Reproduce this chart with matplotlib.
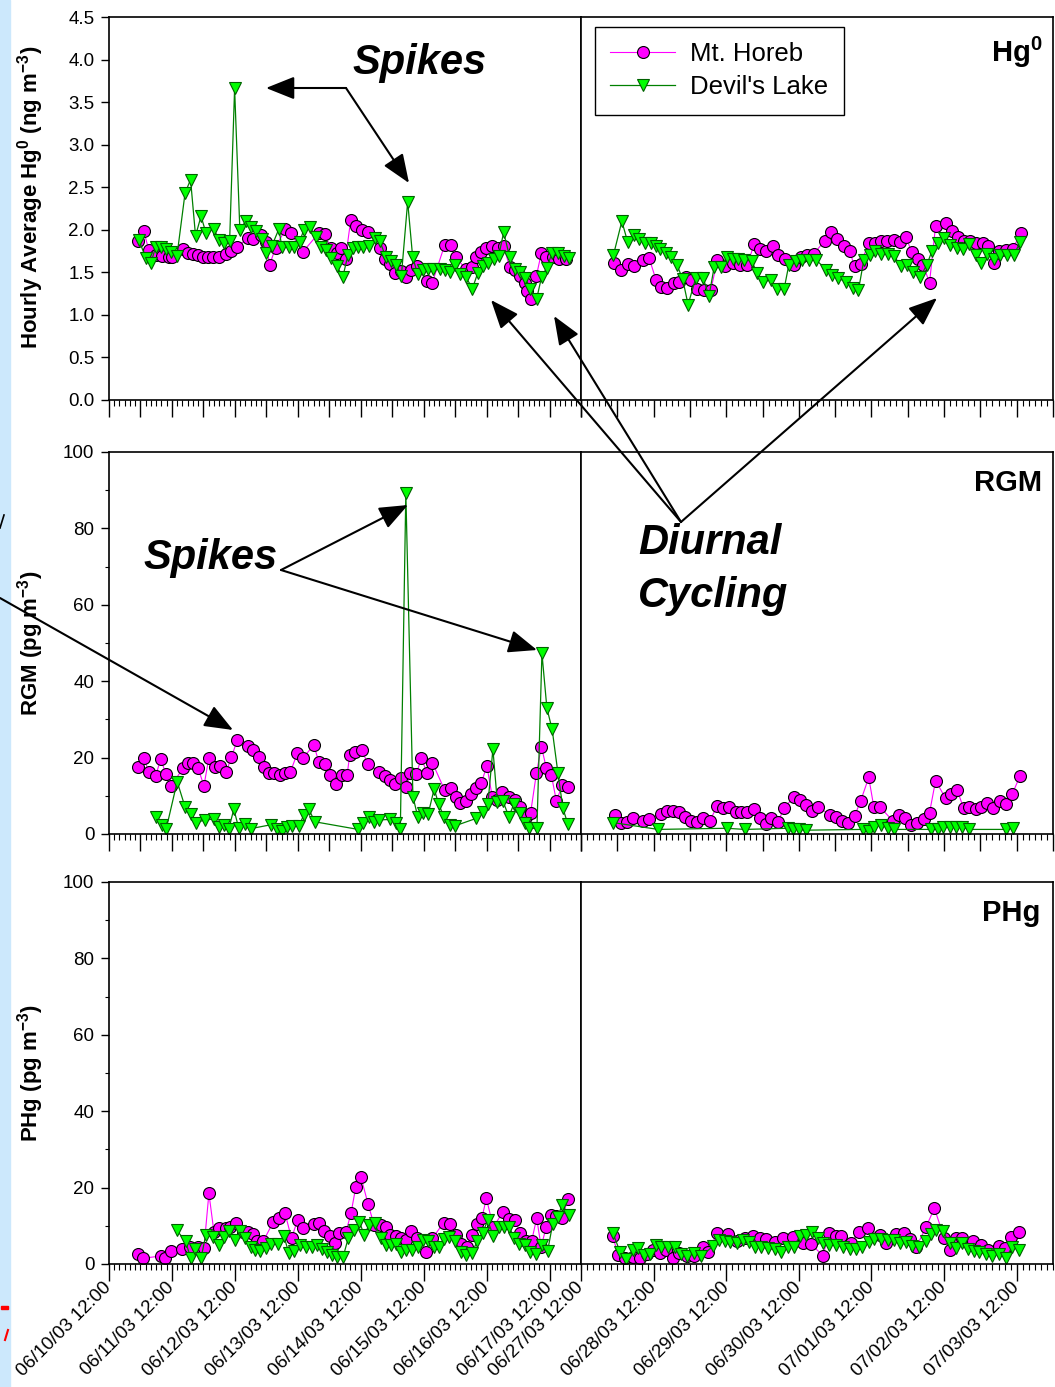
import numpy as np
import matplotlib
matplotlib.use('Agg')
import matplotlib.pyplot as plt
import matplotlib.dates as mdates
from matplotlib.patches import FancyArrowPatch, Rectangle
from matplotlib.lines import Line2D

plt.rcParams['font.family'] = ['Liberation Sans', 'DejaVu Sans']
plt.rcParams['mathtext.default'] = 'regular'

# time axis: hours after 06/10/03 00:00 (first period) and 06/27/03 00:00 (second period)
start1 = np.datetime64('2003-06-10T00:00')
start2 = np.datetime64('2003-06-27T00:00')

# ---- Hg0 (ng m-3) ----
hg0_mh_t1 = [23.0, 25.2, 27.2, 29.8, 32.2, 34.9, 36.0, 40.2, 42.1, 44.0, 45.9, 47.8, 49.7, 51.6, 53.9,
             56.5, 58.5, 60.8, 65.0, 66.9, 69.8, 71.7, 73.3, 75.5, 79.3, 81.3, 85.9, 92.0, 94.3, 96.5,
             98.9, 100.4, 102.2, 104.2, 106.1, 108.3, 110.7, 115.3, 117.2, 119.1, 121.0, 123.5, 125.4,
             127.3, 129.3, 133.2, 135.3, 140.0, 142.3, 144.2, 148.0, 150.6, 152.1, 154.0, 155.9, 158.2,
             160.2, 162.5, 164.8, 166.7, 168.6, 170.5, 171.3, 173.0, 175.0, 176.9, 178.8, 181.2, 183.8, 186.4]
hg0_mh_v1 = [1.87, 1.99, 1.76, 1.70, 1.69, 1.68, 1.68, 1.77, 1.73, 1.72, 1.70, 1.68, 1.68, 1.68, 1.68,
             1.72, 1.75, 1.80, 1.90, 1.89, 1.94, 1.86, 1.59, 1.79, 2.01, 1.96, 1.74, 1.96, 1.95, 1.79,
             1.73, 1.79, 1.66, 2.12, 2.05, 2.00, 1.97, 1.79, 1.66, 1.60, 1.49, 1.51, 1.45,
             1.53, 1.57, 1.40, 1.38, 1.82, 1.82, 1.68, 1.54, 1.56, 1.68, 1.74, 1.79, 1.81,
             1.79, 1.81, 1.56, 1.53, 1.46, 1.37, 1.28, 1.19, 1.46, 1.73, 1.68, 1.68, 1.66, 1.66]
hg0_dl_t1 = [23.4, 26.0, 28.0, 29.8, 31.7, 33.7, 35.5, 37.9, 41.0, 43.1, 45.0, 47.1, 49.0, 52.0, 53.9,
             55.8, 58.0, 59.9, 61.9, 64.1, 66.0, 67.9, 70.2, 71.8, 74.1, 76.8, 77.9, 80.6, 82.5, 84.7,
             86.3, 88.6, 90.8, 92.7, 94.8, 96.8, 98.9, 101.2, 103.1, 105.0, 106.9, 108.8, 111.1, 113.3,
             115.3, 117.5, 119.7, 121.6, 123.5, 125.9, 127.8, 129.7, 131.6, 133.5, 135.4, 138.1, 140.0,
             141.9, 143.8, 145.7, 148.0, 150.6, 152.6, 154.5, 156.4, 158.7, 160.6, 162.5, 164.8, 166.7,
             168.6, 170.8, 172.7, 175.1, 177.0, 178.9, 181.0, 183.1, 185.4, 187.3]
hg0_dl_v1 = [1.88, 1.67, 1.61, 1.80, 1.80, 1.77, 1.74, 1.69, 2.43, 2.59, 1.93, 2.16, 1.96, 2.01, 1.88,
             1.85, 1.87, 3.66, 2.00, 2.10, 2.03, 1.99, 1.89, 1.73, 1.81, 2.01, 1.80, 1.80, 1.80, 1.86,
             2.00, 2.03, 1.92, 1.80, 1.76, 1.67, 1.57, 1.45, 1.70, 1.79, 1.80, 1.80, 1.81, 1.90,
             1.87, 1.68, 1.63, 1.59, 1.46, 2.33, 1.68, 1.48, 1.53, 1.54, 1.54, 1.54, 1.53,
             1.50, 1.59, 1.48, 1.45, 1.31, 1.49, 1.57, 1.61, 1.66, 1.69, 1.97, 1.68, 1.54,
             1.50, 1.43, 1.31, 1.19, 1.45, 1.55, 1.73, 1.73, 1.69, 1.67]
hg0_mh_t2 = [23.0, 25.2, 27.4, 29.4, 32.6, 34.5, 36.8, 38.4, 40.4, 42.6, 44.4, 46.7, 48.3, 50.5, 52.5,
             54.9, 57.1, 59.5, 62.1, 64.6, 67.0, 69.2, 71.1, 73.1, 75.3, 77.2, 79.3, 82.4, 84.6, 86.8,
             89.0, 92.5, 94.7, 96.7, 98.9, 100.8, 102.4, 104.4, 107.1, 109.3, 111.2, 113.2, 115.3, 117.3,
             119.3, 121.3, 123.3, 125.0, 127.2, 129.2, 132.7, 134.5, 136.5, 138.7, 140.7, 142.6, 144.8,
             146.6, 148.6, 150.3, 152.5, 154.7, 157.4]
hg0_mh_v2 = [1.61, 1.53, 1.60, 1.58, 1.65, 1.67, 1.41, 1.33, 1.32, 1.38, 1.39, 1.45, 1.41, 1.30, 1.29,
             1.29, 1.65, 1.57, 1.61, 1.59, 1.59, 1.83, 1.77, 1.75, 1.81, 1.70, 1.66, 1.59, 1.68, 1.70,
             1.72, 1.87, 1.97, 1.89, 1.81, 1.75, 1.57, 1.60, 1.84, 1.85, 1.87, 1.87, 1.88, 1.86,
             1.92, 1.74, 1.66, 1.59, 1.38, 2.05, 2.08, 1.99, 1.92, 1.87, 1.87, 1.85, 1.85,
             1.81, 1.61, 1.75, 1.76, 1.78, 1.96]
hg0_dl_t2 = [22.7, 25.5, 27.4, 29.4, 31.2, 33.1, 35.1, 36.8, 38.2, 40.1, 41.7, 43.7, 45.6, 47.4, 49.9,
             52.4, 54.3, 56.0, 58.2, 60.1, 62.1, 63.9, 65.9, 68.4, 70.3, 72.2, 74.7, 76.7, 79.1, 80.7,
             83.0, 85.2, 87.3, 89.6, 93.1, 94.9, 96.9, 99.7, 101.9, 103.7, 105.5, 107.4, 109.3, 111.2,
             113.6, 115.6, 117.6, 119.8, 121.7, 124.2, 126.3, 128.0, 129.9, 132.1, 134.1, 136.3, 138.2,
             140.4, 142.6, 144.3, 146.3, 148.6, 150.6, 152.8, 155.0, 157.2]
hg0_dl_v2 = [1.70, 2.10, 1.86, 1.94, 1.89, 1.84, 1.84, 1.81, 1.77, 1.73, 1.68, 1.59, 1.42, 1.12, 1.43,
             1.43, 1.22, 1.56, 1.56, 1.68, 1.66, 1.66, 1.65, 1.63, 1.49, 1.39, 1.41, 1.31, 1.30, 1.59,
             1.63, 1.65, 1.65, 1.65, 1.53, 1.47, 1.43, 1.39, 1.32, 1.29, 1.65, 1.70, 1.75, 1.72,
             1.72, 1.69, 1.57, 1.59, 1.50, 1.45, 1.59, 1.75, 1.84, 1.90, 1.82, 1.79, 1.78,
             1.83, 1.70, 1.61, 1.72, 1.66, 1.70, 1.70, 1.70, 1.86]

# ---- RGM (pg m-3) ----
rgm_mh_t1 = [23.2, 25.2, 27.2, 29.8, 31.7, 33.8, 35.7, 40.2, 42.2, 44.1, 46.0, 48.2, 50.1, 52.4, 54.3,
             56.7, 58.7, 60.9, 65.1, 67.0, 69.2, 71.1, 73.0, 74.9, 77.1, 79.1, 81.2, 83.8, 85.9, 90.1,
             92.0, 94.3, 96.1, 98.4, 100.7, 102.8, 103.8, 105.7, 108.3, 110.8, 115.0, 117.2, 119.1, 121.2,
             123.3, 125.4, 126.9, 129.2, 131.1, 133.3, 135.3, 140.0, 142.3, 144.2, 146.0, 148.0, 150.2,
             152.1, 154.0, 156.1, 158.2, 159.9, 162.0, 164.5, 166.7, 168.9, 170.9, 172.8, 175.0, 176.9,
             178.8, 180.7, 182.6, 184.9, 187.0]
rgm_mh_v1 = [17.5, 20.0, 16.3, 15.2, 19.6, 15.6, 12.6, 17.2, 18.7, 18.7, 17.2, 12.6, 20.0, 17.6, 17.8,
             16.3, 20.1, 24.6, 23.0, 22.0, 20.2, 17.6, 16.0, 15.9, 15.4, 15.9, 16.3, 21.1, 19.8, 23.3,
             18.9, 18.3, 15.4, 13.1, 15.4, 15.4, 20.7, 21.5, 22.0, 18.3, 16.3, 15.2, 14.1, 13.1,
             14.6, 12.2, 15.9, 15.7, 19.8, 16.0, 18.7, 11.5, 12.0, 9.6, 8.2, 8.7, 10.6,
             12.0, 13.4, 17.8, 9.6, 8.9, 11.1, 9.8, 8.9, 7.0, 4.5, 5.6, 15.9, 22.9,
             17.2, 15.4, 8.7, 12.8, 12.2]
rgm_dl_t1 = [29.8, 32.1, 33.8, 38.0, 41.0, 43.1, 45.0, 48.8, 52.0, 53.9, 55.8, 57.7, 59.6, 61.5, 63.8,
             66.0, 73.6, 76.1, 78.0, 79.9, 81.8, 84.4, 86.3, 88.2, 90.5, 107.0, 108.9, 111.2, 113.0, 115.0,
             119.3, 121.3, 123.1, 125.2, 127.9, 129.8, 131.7, 133.7, 136.0, 137.7, 139.8, 141.9, 143.8,
             152.1, 154.6, 156.5, 158.4, 160.1, 162.2, 164.5, 166.4, 168.6, 170.5, 172.1, 175.2, 177.1,
             179.0, 181.0, 183.2, 185.1, 187.0]
rgm_dl_v1 = [4.5, 2.4, 1.3, 13.7, 7.1, 5.2, 3.0, 3.7, 3.9, 1.9, 2.3, 1.4, 6.5, 1.5, 2.5,
             1.4, 2.4, 1.2, 0.9, 1.9, 2.2, 2.1, 5.0, 6.5, 3.2, 1.2, 3.0, 4.5, 3.2, 3.7,
             3.8, 2.8, 1.2, 89.3, 9.8, 4.4, 5.6, 5.2, 11.8, 7.9, 4.4, 2.4, 2.1,
             4.1, 5.8, 7.9, 22.2, 8.3, 8.7, 4.5, 7.9, 5.4, 3.0, 1.5, 1.5, 47.3,
             32.9, 27.4, 16.0, 6.7, 2.6]
rgm_mh_t2 = [23.2, 25.2, 27.1, 29.1, 32.4, 34.4, 38.3, 40.3, 42.3, 44.3, 46.3, 48.3, 50.4, 52.4, 54.6,
             57.0, 59.0, 60.9, 63.1, 65.0, 67.0, 69.1, 71.1, 73.1, 74.9, 77.1, 79.1, 82.4, 84.5, 86.5,
             88.5, 90.3, 94.4, 96.4, 98.4, 100.3, 102.4, 104.4, 107.1, 108.8, 110.9, 115.1, 117.0, 119.2,
             121.1, 123.1, 125.2, 127.2, 129.2, 132.5, 134.3, 136.3, 138.5, 140.4, 142.4, 144.2, 146.2,
             148.3, 150.5, 152.5, 154.5, 157.1]
rgm_mh_v2 = [5.0, 3.0, 3.2, 4.3, 3.4, 3.8, 5.2, 6.1, 6.1, 5.8, 4.5, 3.4, 3.2, 4.3, 3.5,
             7.3, 6.7, 7.1, 5.8, 5.8, 5.8, 6.5, 4.3, 2.6, 4.1, 3.2, 6.7, 9.8, 8.9, 7.6,
             6.1, 7.1, 5.0, 4.4, 3.5, 2.8, 4.7, 8.6, 14.8, 7.0, 7.0, 3.4, 5.0, 4.1,
             2.4, 3.0, 3.8, 5.6, 14.0, 9.3, 10.4, 11.5, 6.7, 7.0, 6.5, 7.1, 8.0,
             6.7, 8.7, 7.8, 10.4, 15.2]
rgm_dl_t2 = [22.5, 37.5, 60.1, 66.1, 80.4, 82.1, 84.0, 86.5, 105.2, 107.1, 109.0, 111.2, 113.4, 115.3,
             127.7, 129.9, 131.8, 133.8, 135.8, 138.0, 140.1, 152.5, 154.7]
rgm_dl_v2 = [3.0, 1.2, 1.5, 1.2, 1.5, 1.2, 1.2, 1.0, 1.2, 0.9, 1.9, 2.4, 1.5, 1.2,
             1.2, 1.2, 1.8, 1.8, 1.9, 1.9, 1.2, 1.2, 1.5]

# ---- PHg (pg m-3) ----
phg_mh_t1 = [23.2, 25.1, 31.7, 33.5, 35.8, 39.8, 42.9, 45.9, 48.2, 50.1, 52.0, 53.9, 56.5, 58.3, 60.6,
             63.1, 65.0, 67.0, 68.5, 70.8, 74.7, 76.9, 79.1, 81.6, 83.9, 86.0, 90.3, 92.2, 94.1, 96.2,
             98.1, 99.9, 102.4, 104.3, 106.1, 108.1, 110.8, 113.1, 115.6, 117.5, 119.2, 121.4, 123.3,
             125.3, 127.2, 129.4, 133.0, 135.3, 139.6, 142.2, 144.4, 146.2, 148.4, 150.5, 152.4, 154.2,
             155.9, 158.6, 162.2, 164.4, 167.0, 168.8, 170.9, 173.2, 175.1, 176.8, 178.7, 180.4, 182.6,
             184.8, 187.0]
phg_mh_v1 = [2.6, 1.5, 2.1, 1.7, 3.5, 4.0, 4.5, 4.4, 4.1, 18.5, 8.5, 9.3, 9.5, 9.8, 10.8,
             8.5, 8.5, 7.9, 6.1, 5.9, 11.1, 12.0, 13.4, 6.7, 11.5, 9.3, 10.5, 10.8, 8.7, 7.3,
             5.4, 8.0, 8.5, 13.3, 20.1, 22.7, 15.7, 10.2, 10.2, 9.6, 7.6, 7.3, 6.7,
             6.3, 8.7, 6.7, 3.2, 6.7, 10.8, 10.5, 7.6, 5.2, 4.5, 7.6, 10.5, 12.0,
             17.2, 9.6, 13.7, 11.7, 11.4, 8.0, 5.9, 6.1, 12.0, 4.5, 9.6, 12.8, 12.6,
             12.0, 16.9]
phg_dl_t1 = [37.8, 41.2, 43.1, 44.8, 47.1, 48.9, 51.8, 53.9, 55.8, 57.9, 59.9, 62.0, 63.8, 66.0, 67.7,
             69.6, 71.8, 73.7, 76.5, 78.7, 80.6, 82.5, 84.9, 87.1, 89.3, 91.2, 93.2, 95.1, 97.0, 99.1,
             101.3, 103.2, 105.3, 107.5, 109.3, 111.2, 113.3, 115.6, 117.5, 119.5, 121.4, 123.3, 125.3,
             127.6, 129.7, 131.6, 133.8, 136.0, 137.8, 139.9, 141.8, 144.0, 146.2, 148.1, 150.5, 152.4,
             154.5, 156.4, 158.6, 160.7, 162.6, 164.7, 166.6, 168.5, 170.5, 172.7, 174.9, 177.2, 179.3,
             181.2, 183.1, 184.8, 187.3]
phg_dl_v1 = [8.9, 5.9, 1.7, 3.8, 1.5, 7.6, 7.0, 5.0, 7.0, 8.7, 6.3, 8.7, 6.7, 4.5, 3.7,
             3.5, 4.1, 5.2, 5.2, 7.3, 2.8, 3.5, 5.0, 4.4, 4.5, 5.0, 3.8, 3.2, 2.4, 1.9,
             1.9, 6.7, 8.9, 11.1, 7.6, 10.2, 10.8, 6.7, 5.0, 5.0, 5.2, 3.2, 3.7,
             3.7, 4.5, 6.3, 5.9, 4.4, 4.4, 6.5, 7.0, 5.9, 3.2, 2.4, 2.8, 6.1,
             8.2, 11.4, 7.3, 9.6, 9.6, 9.6, 6.7, 5.2, 5.0, 3.2, 2.6, 5.0, 3.5,
             10.5, 12.2, 15.5, 12.8]
phg_mh_t2 = [22.5, 24.3, 26.5, 29.1, 31.5, 33.7, 35.9, 38.1, 40.1, 42.3, 44.4, 46.9, 49.3, 52.2, 54.0,
             57.0, 60.6, 63.4, 66.1, 68.9, 71.1, 73.3, 76.0, 78.8, 82.1, 85.4, 88.1, 92.0, 93.9, 96.2,
             98.0, 101.3, 103.8, 106.8, 110.7, 112.9, 116.2, 118.6, 120.6, 122.8, 126.1, 128.8, 132.1,
             134.0, 135.8, 138.0, 141.7, 144.2, 146.4, 150.0, 152.3, 154.1, 156.6]
phg_mh_v2 = [7.2, 2.4, 1.5, 1.9, 1.7, 2.6, 3.7, 2.8, 3.7, 1.7, 3.0, 2.1, 2.1, 4.5, 3.2,
             8.0, 7.9, 6.1, 6.7, 7.3, 6.7, 6.5, 5.8, 6.7, 7.0, 5.4, 5.2, 2.1, 8.2, 7.3,
             7.2, 5.4, 8.5, 9.3, 7.6, 5.6, 7.9, 8.2, 6.5, 4.4, 9.8, 14.6, 6.7,
             3.7, 6.7, 6.7, 6.1, 5.0, 3.7, 4.7, 4.1, 7.0, 8.5]
phg_dl_t2 = [22.5, 24.9, 26.9, 29.1, 30.9, 32.8, 34.8, 36.8, 38.6, 40.8, 43.0, 45.0, 46.9, 49.3, 51.8,
             55.7, 57.5, 59.5, 61.4, 63.4, 65.4, 67.5, 69.4, 71.6, 73.8, 76.0, 78.2, 80.4, 82.3, 84.3,
             86.5, 88.5, 90.3, 92.0, 93.9, 96.2, 98.6, 100.8, 102.8, 105.0, 107.1, 109.0, 111.2, 113.4,
             115.3, 117.3, 119.3, 121.5, 123.6, 125.9, 127.7, 129.4, 131.6, 133.8, 135.8, 138.0, 139.8,
             141.8, 143.7, 145.7, 147.9, 150.0, 152.5, 154.5, 156.6]
phg_dl_v2 = [8.2, 3.2, 1.2, 3.7, 4.1, 2.4, 2.6, 5.0, 4.4, 4.4, 4.4, 2.6, 2.1, 2.8, 2.1,
             4.7, 6.3, 6.1, 5.8, 5.6, 6.3, 5.8, 4.5, 4.4, 4.1, 3.8, 3.2, 4.4, 4.4, 7.3,
             7.6, 8.5, 6.7, 5.6, 5.0, 5.0, 4.5, 3.8, 3.8, 4.5, 5.8, 6.5, 6.5, 6.3,
             6.3, 5.6, 5.8, 4.7, 4.4, 6.1, 7.9, 8.9, 8.7, 5.4, 4.1, 5.6, 3.8,
             3.5, 3.2, 2.6, 2.1, 2.6, 1.7, 4.5, 3.7]

site_names = ['Mt. Horeb', "Devil's Lake"]
panel_names = ['Hg$^0$', 'RGM', 'PHg']
ylabels = ['Hourly Average Hg$^0$ (ng m$^{-3}$)', 'RGM (pg m$^{-3}$)', 'PHg (pg m$^{-3}$)']


def to_time(start, hours):
    return start + (np.array(hours) * 60).round().astype('timedelta64[m]')


W, H = 1055, 1387
fig = plt.figure(figsize=(W / 100, H / 100), dpi=100)


def fx(px):
    return px / W


def fy(py):
    return 1 - py / H


# pixel rows of the three panels (top, bottom)
rows = [(17, 400), (452, 834), (882, 1264)]
data = [
    (hg0_mh_t1, hg0_mh_v1, hg0_dl_t1, hg0_dl_v1, hg0_mh_t2, hg0_mh_v2, hg0_dl_t2, hg0_dl_v2),
    (rgm_mh_t1, rgm_mh_v1, rgm_dl_t1, rgm_dl_v1, rgm_mh_t2, rgm_mh_v2, rgm_dl_t2, rgm_dl_v2),
    (phg_mh_t1, phg_mh_v1, phg_dl_t1, phg_dl_v1, phg_mh_t2, phg_mh_v2, phg_dl_t2, phg_dl_v2),
]
ylims = [(0, 4.5), (0, 100), (0, 100)]

mh_style = dict(color='#ff00ff', lw=0.8, marker='o', ms=8.6, mfc='#ff00ff', mec='black', mew=0.8)
dl_style = dict(color='#008000', lw=0.9, marker='v', ms=8.8, mfc='#00ff00', mec='#006000', mew=0.8)

axes_right = []
for i, (top, bot) in enumerate(rows):
    axL = fig.add_axes([fx(109), fy(bot), 472 / W, (bot - top) / H])
    axR = fig.add_axes([fx(581), fy(bot), 472 / W, (bot - top) / H])
    d = data[i]
    axL.plot(to_time(start1, d[0]), d[1], label=site_names[0], **mh_style)
    axL.plot(to_time(start1, d[2]), d[3], label=site_names[1], **dl_style)
    axR.plot(to_time(start2, d[4]), d[5], label=site_names[0], **mh_style)
    axR.plot(to_time(start2, d[6]), d[7], label=site_names[1], **dl_style)

    axL.set_xlim(start1 + np.timedelta64(12, 'h'), start1 + np.timedelta64(192, 'h'))
    axR.set_xlim(start2 + np.timedelta64(12, 'h'), start2 + np.timedelta64(168, 'h'))

    for ax in (axL, axR):
        ax.set_ylim(*ylims[i])
        for s in ax.spines.values():
            s.set_linewidth(1.2)
        ax.xaxis.set_minor_locator(mdates.HourLocator(byhour=range(0, 24, 2)))
        if i < 2:
            ax.xaxis.set_major_locator(mdates.HourLocator(byhour=[0, 12]))
            ax.tick_params(axis='x', labelbottom=False)
        else:
            ax.xaxis.set_major_locator(mdates.HourLocator(byhour=[12]))
            ax.xaxis.set_major_formatter(mdates.DateFormatter('%m/%d/%y %H:%M'))
            ax.tick_params(axis='x', labelsize=13.5, pad=3)
        ax.tick_params(axis='x', which='major', direction='out', length=12, width=1)
        ax.tick_params(axis='x', which='minor', direction='out', length=4.5, width=0.8)

    if i == 0:
        axL.yaxis.set_major_locator(plt.MultipleLocator(0.5))
        axL.yaxis.set_major_formatter(plt.FormatStrFormatter('%.1f'))
    else:
        axL.yaxis.set_major_locator(plt.MultipleLocator(20))
        axL.yaxis.set_minor_locator(plt.MultipleLocator(10))
    axL.tick_params(axis='y', which='major', direction='out', length=5.5, width=1, labelsize=13.5, pad=5)
    axL.tick_params(axis='y', which='minor', direction='out', length=3, width=0.8)
    axR.tick_params(axis='y', which='both', left=False, labelleft=False)

    axL.set_ylabel(ylabels[i], fontsize=16, fontweight='bold')
    axL.yaxis.set_label_coords(-0.133, 0.53 if i == 0 else 0.5)

    if i == 2:
        for ax in (axL, axR):
            plt.setp(ax.get_xticklabels(), rotation=45, ha='right', va='center', rotation_mode='anchor')
    axes_right.append(axR)

leg = axes_right[0].legend(loc='upper left', bbox_to_anchor=((595 - 581) / 472, 1 - 10 / 383),
                           borderaxespad=0, fontsize=18.5, fancybox=False, edgecolor='black',
                           framealpha=1, handlelength=2.5, handletextpad=0.6, borderpad=0.6,
                           labelspacing=0.35)
leg.get_frame().set_linewidth(1.0)

# panel names
fig.text(fx(1042), fy(62), panel_names[0], ha='right', va='baseline', fontsize=21, fontweight='bold')
fig.text(fx(1042), fy(491), panel_names[1], ha='right', va='baseline', fontsize=21, fontweight='bold')
fig.text(fx(1040), fy(921), panel_names[2], ha='right', va='baseline', fontsize=21, fontweight='bold')

# annotations
fig.text(fx(420), fy(63), 'Spikes', ha='center', va='center', fontsize=30, fontweight='bold', fontstyle='italic')
fig.text(fx(211), fy(558), 'Spikes', ha='center', va='center', fontsize=30, fontweight='bold', fontstyle='italic')
fig.text(fx(638), fy(543), 'Diurnal', ha='left', va='center', fontsize=30, fontweight='bold', fontstyle='italic')
fig.text(fx(638), fy(596), 'Cycling', ha='left', va='center', fontsize=30, fontweight='bold', fontstyle='italic')

arrows = [((346, 88), (266, 88)), ((346, 88), (409, 183)),
          ((681, 522), (491, 300)), ((681, 522), (554, 316)), ((681, 522), (937, 298)),
          ((281, 570), (408, 505)), ((281, 570), (537, 650)),
          ((0, 598), (233, 730))]
for a, b in arrows:
    fig.add_artist(FancyArrowPatch((fx(a[0]), fy(a[1])), (fx(b[0]), fy(b[1])), transform=fig.transFigure,
                                   arrowstyle='-|>,head_length=0.8,head_width=0.32', mutation_scale=22,
                                   lw=1.5, color='black', shrinkA=0, shrinkB=0))

# slide remnants on the left edge
fig.add_artist(Rectangle((0, 0), fx(10), 1, transform=fig.transFigure, color='#cce8fc', zorder=0))
fig.add_artist(Line2D([fx(0), fx(4)], [fy(528), fy(515)], transform=fig.transFigure, color='black', lw=1.2))
fig.add_artist(Rectangle((fx(1), fy(1309)), fx(7), 3 / H, transform=fig.transFigure, color='red'))
fig.add_artist(Line2D([fx(5), fx(8)], [fy(1340), fy(1330)], transform=fig.transFigure, color='red', lw=1.5))

fig.savefig('out.png', dpi=100)
